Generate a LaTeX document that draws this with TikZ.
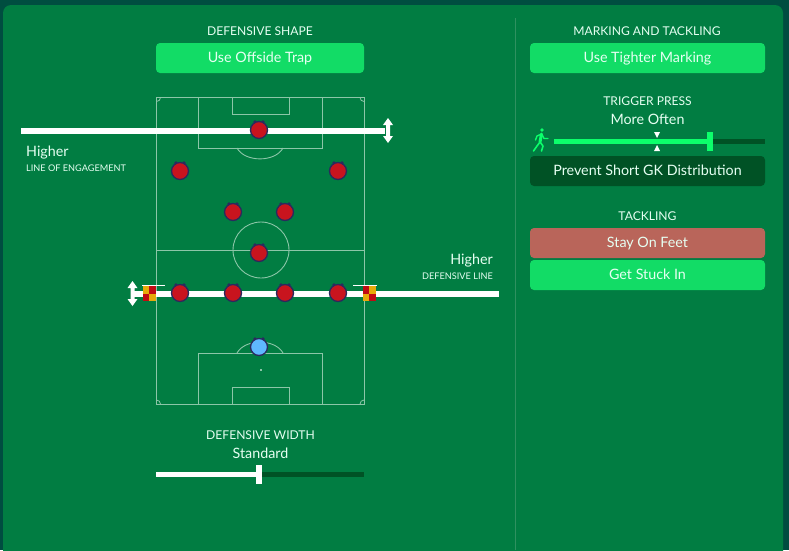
\documentclass[tikz,border=0pt]{standalone}
\usepackage{fontspec}
\setmainfont{Lato}
\definecolor{bgdark}{HTML}{004D40}
\definecolor{panel}{HTML}{017D42}
\definecolor{btn}{HTML}{12DC66}
\definecolor{btndark}{HTML}{005225}
\definecolor{btnred}{HTML}{B9655A}
\definecolor{bright}{HTML}{0CFF6B}
\definecolor{txt}{HTML}{E6FFF2}
\definecolor{pitchline}{HTML}{8CC6A8}
\definecolor{divider}{HTML}{2F9160}
\definecolor{plred}{HTML}{C8141E}
\definecolor{plblue}{HTML}{5FB8FF}
\definecolor{plnavy}{HTML}{2A2A5E}
\definecolor{flagred}{HTML}{C00A14}
\definecolor{flagyel}{HTML}{E6AA0A}
\tikzset{
  x=1pt,y=-1pt,
  caption/.style={text=txt,font=\fontsize{12.1}{14}\selectfont,inner sep=0pt,anchor=center},
  value/.style={text=txt,font=\fontsize{14.3}{16}\selectfont,inner sep=0pt,anchor=center},
  tiny label/.style={text=txt,font=\fontsize{9.15}{11}\selectfont,inner sep=0pt},
  button/.style={rounded corners=4pt,fill=#1,draw=none},
  pline/.style={draw=pitchline,line width=1pt},
  corner/.style={draw=pitchline,line width=.8pt},
  bar/.style={line width=6pt,draw=white},
}
\newcommand{\btnbox}[6]{%
  \fill[button=#5] (#1,#2) rectangle (#3,#4);
  \node[value,anchor=base] (#6) at ({(#1+#3)/2},{(#2+#4)/2+4.8}) {#6};}
\newcommand{\player}[4]{%
  \fill[#4] (#1-4,#2-8) circle (1.9);
  \fill[#4] (#1+4,#2-8) circle (1.9);
  \node[circle,fill=#3,draw=#4,line width=1.3pt,minimum size=17pt,inner sep=0pt] at (#1,#2) {};}
\newcommand{\updown}[3]{%
  \fill[white] (#1,#2) -- (#1+5,#2+7) -- (#1+2,#2+7) -- (#1+2,#3-7) -- (#1+5,#3-7) -- (#1,#3) -- (#1-5,#3-7) -- (#1-2,#3-7) -- (#1-2,#2+7) -- (#1-5,#2+7) -- cycle;}
\newcommand{\flagA}[3]{%
  \fill[#2] (#1,286) rectangle (#1+6,293.5);
  \fill[#3] (#1+6,286) rectangle (#1+12.5,293.5);
  \fill[#3] (#1,293.5) rectangle (#1+6,301);
  \fill[#2] (#1+6,293.5) rectangle (#1+12.5,301);}
\begin{document}
\begin{tikzpicture}
\useasboundingbox (0,0) rectangle (789,550);
\fill[bgdark] (0,0) rectangle (789,550);
\fill[panel,rounded corners=8pt] (3,5) rectangle (783,570);
\draw[divider,line width=1.2pt] (515.5,18) -- (515.5,550);
% pitch
\draw[pline] (156.5,97.5) rectangle (364,404);
\draw[pline] (156.5,250) -- (364,250);
\draw[pline,line width=0.9pt] (261,250) circle (28);
\draw[pline] (198.5,97.5) rectangle (322.5,148);
\draw[pline] (232.5,97.5) rectangle (289,114.5);
\draw[pline,line width=.9pt] (237,148) .. controls (245,162.5) and (275,162.5) .. (283,148);
\draw[pline] (198.5,404) -- (198.5,353) -- (322.5,353) -- (322.5,404);
\draw[pline] (232.5,404) -- (232.5,387) -- (289,387) -- (289,404);
\draw[pline,line width=.9pt] (237,353) .. controls (245,338.5) and (275,338.5) .. (283,353);
\fill[pitchline] (260,368.5) rectangle (262,370.5);
\draw[corner] (160.5,97.5) .. controls (160.5,99.7) and (158.7,101.5) .. (156.5,101.5);
\draw[corner] (360,97.5) .. controls (360,99.7) and (361.8,101.5) .. (364,101.5);
\draw[corner] (160.5,404) .. controls (160.5,401.8) and (158.7,400) .. (156.5,400);
\draw[corner] (360,404) .. controls (360,401.8) and (361.8,400) .. (364,400);
% headings
\node[caption] (shape) at (260,31) {DEFENSIVE SHAPE};
\btnbox{156}{43}{364}{73}{btn}{Use Offside Trap}
% line of engagement
\coordinate (le) at (21,130.5); \coordinate (re) at (385,130.5);
\draw[bar] (le) -- (re);
\updown{388}{118}{143}
\node[value,anchor=west] (h1) at (26,152.5) {Higher};
\node[tiny label,anchor=west] (l1) at (26,168) {LINE OF ENGAGEMENT};
% defensive line
\coordinate (dl) at (132,293.5); \coordinate (dr) at (499,293.5);
\draw[bar] (dl) -- (dr);
\updown{132.5}{281}{306}
\flagA{143}{flagyel}{flagred}
\flagA{363}{flagred}{flagyel}
\draw[white,line width=.9pt] (142,285.5) -- (165,285.5);
\draw[white,line width=.9pt] (353,285.5) -- (377,285.5);
\node[value,anchor=east] (h2) at (493,260.5) {Higher};
\node[tiny label,anchor=east] (l2) at (493,276) {DEFENSIVE LINE};
% players
\player{259}{130}{plred}{plnavy}
\player{180}{171}{plred}{plnavy}
\player{338}{171}{plred}{plnavy}
\player{233}{212}{plred}{plnavy}
\player{285}{212}{plred}{plnavy}
\player{259}{253}{plred}{plnavy}
\player{180}{293}{plred}{plnavy}
\player{233}{293}{plred}{plnavy}
\player{285}{293}{plred}{plnavy}
\player{338}{293}{plred}{plnavy}
\player{259}{347}{plblue}{plnavy}
% width
\node[caption] (width) at (260.5,435) {DEFENSIVE WIDTH};
\node[value] (std) at (260.5,453.5) {Standard};
\fill[btndark] (156,472) rectangle (364,477);
\fill[white] (156,472) rectangle (259,477);
\fill[white] (256,465) rectangle (262,484);
% right column
\node[caption] (mark) at (647,31) {MARKING AND TACKLING};
\btnbox{530}{43}{765}{73}{btn}{Use Tighter Marking}
\node[caption] (trig) at (647.5,101) {TRIGGER PRESS};
\node[value] (often) at (647.5,119.5) {More Often};
\fill[btndark] (554,139) rectangle (765,144);
\fill[bright] (554,139) rectangle (710,144);
\fill[bright] (707,132) rectangle (713,151);
\fill[white] (654,132) -- (660,132) -- (657,138) -- cycle;
\fill[white] (654,151) -- (660,151) -- (657,145) -- cycle;
% runner
\fill[bright] (542,130) circle (1.9);
\draw[bright,line width=3pt,line cap=round] (541.5,134) -- (540,142);
\draw[bright,line width=1.4pt,line cap=round,line join=round] (540.5,134.5) -- (537,136) -- (535.5,140);
\draw[bright,line width=1.4pt,line cap=round,line join=round] (542,134.5) -- (544,138.5) -- (548,138.5);
\draw[bright,line width=1.6pt,line cap=round,line join=round] (540,142) -- (537,146) -- (533.5,151);
\draw[bright,line width=1.6pt,line cap=round,line join=round] (540,142) -- (543,146) -- (541.5,151);
\btnbox{530}{156}{765}{186}{btndark}{Prevent Short GK Distribution}
\node[caption] (tack) at (647.5,216) {TACKLING};
\btnbox{530}{228}{765}{258}{btnred}{Stay On Feet}
\btnbox{530}{260}{765}{290}{btn}{Get Stuck In}
\end{tikzpicture}
\end{document}
